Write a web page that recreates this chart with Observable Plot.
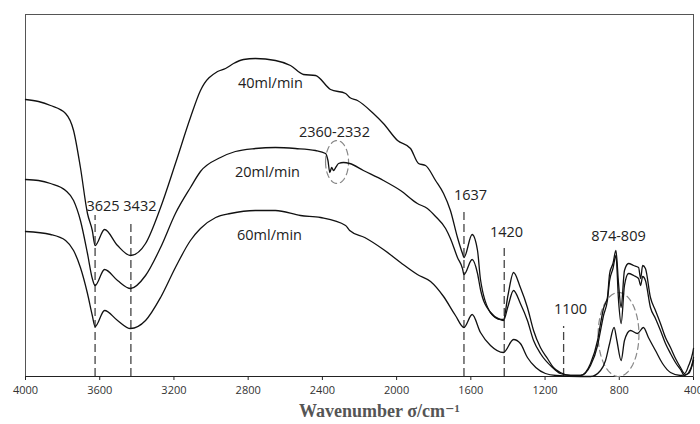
<!DOCTYPE html>
<html>
<head>
<meta charset="utf-8">
<script src="https://cdn.jsdelivr.net/npm/d3@7"></script>
<script src="https://cdn.jsdelivr.net/npm/@observablehq/plot@0.6"></script>
<style>
  html, body { margin: 0; padding: 0; background: #fff; }
  #chart svg { display: block; }
</style>
</head>
<body>
<div id="chart"></div>
<script>
// wavenumber (cm-1) and transmittance (a.u.)
const wn40 = [4000,3930,3865,3784,3741,3704,3666,3640,3625,3574,3504,3434,3353,3272,3192,3111,3057,2965,2922,2879,2825,2761,2653,2572,2502,2437,2356,2275,2253,2211,2125,2071,1995,1925,1882,1844,1790,1747,1710,1672,1645,1637,1593,1564,1548,1494,1440,1424,1400,1370,1333,1295,1262,1225,1187,1155,1118,1062,1009,955,917,901,885,864,852,834,818,804,790,772,750,723,696,685,674,659,632,605,578,551,524,497,470,448,426,405,400];
const t40 = [277,275,271,263,246,209,163,146,131,147,131,121,133,169,213,259,286,305,308,313,317,318,316,311,302,301,287,283,279,276,263,253,236,228,213,211,196,183,166,139,123,119,142,126,97,64,57,57,81,104,89,69,46,29,18,9,4,1,1,13,36,53,68,79,103,113,126,93,69,106,113,111,109,98,111,108,79,66,53,39,29,18,9,3,11,23,28];

const wn20 = [4000,3930,3865,3784,3741,3704,3666,3640,3625,3574,3504,3434,3353,3272,3192,3111,3057,2949,2869,2761,2653,2545,2437,2383,2370,2360,2350,2340,2325,2313,2286,2253,2179,2071,1979,1888,1834,1790,1736,1710,1672,1645,1637,1593,1564,1548,1494,1440,1424,1400,1370,1333,1295,1262,1225,1160,1118,1062,1009,955,917,901,885,864,852,834,818,804,790,772,750,723,696,685,674,659,632,605,578,551,524,497,470,448,426,405,400];
const t20 = [197,196,193,186,176,156,123,98,91,107,96,88,101,129,163,189,205,219,225,228,229,228,226,223,216,204,209,206,210,213,214,213,206,196,186,173,168,160,148,138,119,108,102,117,103,87,64,57,56,70,86,73,56,36,23,9,3,1,1,11,31,46,61,76,96,108,121,76,53,91,103,101,98,91,100,96,69,58,46,33,23,14,7,1,4,14,19];

const wn60 = [4000,3865,3784,3741,3704,3666,3640,3625,3574,3504,3434,3353,3272,3192,3111,3057,2975,2896,2761,2653,2518,2410,2275,2253,2172,2071,1979,1888,1817,1747,1683,1637,1593,1548,1494,1424,1370,1333,1295,1250,1198,1140,1009,955,901,874,852,828,813,790,772,740,702,670,643,605,567,524,470,426,400];
const t60 = [145,142,136,126,109,83,61,50,66,56,48,56,79,109,136,148,159,163,166,166,161,159,151,146,139,127,114,102,95,80,61,49,62,44,31,24,37,33,19,9,3,1,0,0,6,16,33,49,36,16,36,46,43,49,39,26,13,4,1,3,16];

// annotation data
const peakLines = [3625, 3432, 1637, 1420, 1100];
const peakLineTops = [161, 154, 164, 128, 50];
const labelTexts = ["40ml/min", "20ml/min", "60ml/min", "2360-2332", "3625 3432", "1637", "1420", "1100", "874-809"];
const labelWn = [2680, 2696, 2685, 2335, 3483, 1602, 1408, 1063, 804];
const labelT = [293, 204, 141, 244, 170, 181, 144, 67, 140];
const ellipseWn = [2321, 804];
const ellipseT = [214.5, 42];
const ellipseRwn = [62, 110];
const ellipseRt = [21.5, 42];
const xTicks = [4000, 3600, 3200, 2800, 2400, 2000, 1600, 1200, 800, 400];

const series = [
  {name: "40ml/min", wn: wn40, t: t40},
  {name: "20ml/min", wn: wn20, t: t20},
  {name: "60ml/min", wn: wn60, t: t60}
];
const spectra = series.flatMap(s => s.wn.map((w, i) => ({series: s.name, wn: w, t: s.t[i]})));
const lines = peakLines.map((w, i) => ({wn: w, top: peakLineTops[i]}));
const labels = labelTexts.map((s, i) => ({text: s, wn: labelWn[i], t: labelT[i]}));
const ellipses = ellipseWn.flatMap((cw, k) =>
  d3.range(0, 73).map(j => {
    const a = j / 72 * 2 * Math.PI;
    return {id: k, wn: cw + ellipseRwn[k] * Math.cos(a), t: ellipseT[k] + ellipseRt[k] * Math.sin(a)};
  })
);

const chart = Plot.plot({
  width: 700,
  height: 424,
  marginLeft: 25,
  marginRight: 7,
  marginTop: 14,
  marginBottom: 48,
  style: {fontFamily: "'Open Sans', sans-serif", background: "#fff", color: "#222"},
  x: {domain: [4000, 400], ticks: xTicks, tickFormat: d => String(d), tickSize: 4, tickPadding: 6, label: null},
  y: {domain: [0, 362], axis: null},
  marks: [
    Plot.frame({stroke: "#555", strokeWidth: 1}),
    Plot.ruleY([0], {stroke: "#222", strokeWidth: 1.2}),
    Plot.ruleX(lines, {x: "wn", y1: 0, y2: "top", stroke: "#444", strokeWidth: 1.3, strokeDasharray: "8,4"}),
    Plot.line(ellipses, {x: "wn", y: "t", z: "id", stroke: "#888", strokeWidth: 1.2, strokeDasharray: "6,4"}),
    Plot.line(spectra, {x: "wn", y: "t", z: "series", stroke: "#111", strokeWidth: 1.3, curve: "monotone-x"}),
    Plot.text(labels, {x: "wn", y: "t", text: "text", fontSize: 14.5, fill: "#222"}),
    Plot.text(["Wavenumber σ/cm⁻¹"], {frameAnchor: "bottom", dx: 20, dy: 40, text: d => d,
      fontFamily: "'Liberation Serif', 'DejaVu Serif', serif", fontWeight: "bold", fontSize: 18, fill: "#555"})
  ]
});
const tl = chart.querySelector('[aria-label="x-axis tick label"]');
if (tl) { tl.setAttribute("font-size", "11"); tl.setAttribute("fill", "#333"); }
document.getElementById("chart").appendChild(chart);
</script>
</body>
</html>
